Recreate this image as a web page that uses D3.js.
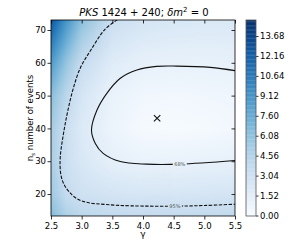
<!DOCTYPE html>
<html>
<head>
<meta charset="utf-8">
<script src="https://cdn.jsdelivr.net/npm/d3@7"></script>
<style>
  body { margin: 0; background: #fff; }
  text { font-family: "DejaVu Sans", sans-serif; }
</style>
</head>
<body>
<script>
// colour field (rows: ns ascending, cols: gamma)
var gammaGrid = [2.5, 2.75, 3.0, 3.5, 4.0, 4.5, 5.0, 5.5];
var nsGrid = [13, 20, 30, 40, 50, 60, 73.1];
var field = [
  [6.5, 4.8, 4.2, 3.8, 3.7, 3.7, 3.8, 3.9],
  [5.5, 3.6, 3.0, 2.6, 2.4, 2.4, 2.5, 2.6],
  [5.0, 3.2, 2.3, 1.3, 1.0, 1.0, 1.1, 1.2],
  [5.2, 3.2, 2.0, 0.8, 0.2, 0.1, 0.2, 0.4],
  [6.3, 4.1, 2.5, 1.0, 0.5, 0.4, 0.5, 0.6],
  [8.6, 5.8, 3.6, 1.8, 1.2, 1.1, 1.1, 1.2],
  [12.5, 9.0, 6.2, 3.3, 2.6, 2.3, 2.2, 2.2]
];

// contour lines [gamma, ns]
var contour68 = [[5.5, 57.6], [5.1, 58.6], [4.55, 59.0], [4.22, 58.9], [3.9, 57.8], [3.63, 55.3],
  [3.41, 50.7], [3.25, 45.6], [3.16, 39.5], [3.22, 35.5], [3.35, 32.4], [3.63, 29.9],
  [4.06, 29.1], [4.6, 29.1], [5.5, 30.2]];
var contour95 = [[3.58, 73.1], [3.38, 70.2], [3.16, 64.2], [2.98, 58.5], [2.86, 52], [2.77, 45],
  [2.7, 38], [2.65, 31], [2.66, 26], [2.71, 23], [2.79, 20.8], [2.92, 18.6], [3.1, 17.4],
  [3.4, 16.8], [3.8, 16.4], [4.5, 16.3], [5.0, 16.5], [5.5, 16.9]];
var bestFit = [4.23, 43.1];
var labels = [{ text: '68%', g: 4.6, n: 29.1 }, { text: '95%', g: 4.52, n: 16.3 }];

var xTicks = [2.5, 3.0, 3.5, 4.0, 4.5, 5.0, 5.5];
var yTicks = [20, 30, 40, 50, 60, 70];
var cbTicks = [0, 1.52, 3.04, 4.56, 6.08, 7.60, 9.12, 10.64, 12.16, 13.68];

var width = 294, height = 252;
var pLeft = 51, pRight = 235, pTop = 20, pBottom = 216;
var cbMax = 14.9;

var x = d3.scaleLinear().domain([2.5, 5.5]).range([pLeft, pRight]);
var y = d3.scaleLinear().domain([13.3, 73.05]).range([pBottom, pTop]);
var color = d3.scaleSequential(d3.interpolateBlues).domain([0, cbMax]);

var svg = d3.select('body').append('svg')
  .attr('width', width)
  .attr('height', height);

// bilinear lookup in the read grid
function lookup(g, n) {
  var i = Math.max(0, Math.min(gammaGrid.length - 2, d3.bisectRight(gammaGrid, g) - 1));
  var j = Math.max(0, Math.min(nsGrid.length - 2, d3.bisectRight(nsGrid, n) - 1));
  var tx = Math.max(0, Math.min(1, (g - gammaGrid[i]) / (gammaGrid[i + 1] - gammaGrid[i])));
  var ty = Math.max(0, Math.min(1, (n - nsGrid[j]) / (nsGrid[j + 1] - nsGrid[j])));
  var a = field[j][i], b = field[j][i + 1], c = field[j + 1][i], d = field[j + 1][i + 1];
  return (a * (1 - tx) + b * tx) * (1 - ty) + (c * (1 - tx) + d * tx) * ty;
}

var nx = 150, ny = 120;
var gx = d3.scaleLinear().domain([0, nx]).range(x.domain());
var gy = d3.scaleLinear().domain([0, ny]).range(y.domain());
var values = new Array(nx * ny);
for (var j = 0; j < ny; j++) {
  for (var i = 0; i < nx; i++) {
    values[j * nx + i] = lookup(gx(i + 0.5), gy(j + 0.5));
  }
}

var step = 0.1;
var contours = d3.contours()
  .size([nx, ny])
  .smooth(true)
  .thresholds(d3.range(0, cbMax, step))(values);

var proj = d3.geoTransform({
  point: function (px, py) {
    this.stream.point(x(gx(px)), y(gy(py)));
  }
});
var path = d3.geoPath(proj);

svg.append('clipPath').attr('id', 'plotclip')
  .append('rect')
  .attr('x', pLeft).attr('y', pTop)
  .attr('width', pRight - pLeft).attr('height', pBottom - pTop);

svg.append('g')
  .attr('clip-path', 'url(#plotclip)')
  .selectAll('path')
  .data(contours)
  .enter()
  .append('path')
  .attr('d', path)
  .attr('fill', function (d) { return color(d.value + step / 2); })
  .attr('stroke', function (d) { return color(d.value + step / 2); })
  .attr('stroke-width', 0.3);

// mask out gaps for the contour labels
var mask = svg.append('mask').attr('id', 'labelmask')
  .attr('maskUnits', 'userSpaceOnUse')
  .attr('x', 0).attr('y', 0).attr('width', width).attr('height', height);
mask.append('rect').attr('width', width).attr('height', height).attr('fill', '#fff');
mask.selectAll('rect.gap')
  .data(labels)
  .enter()
  .append('rect')
  .attr('class', 'gap')
  .attr('x', function (d) { return x(d.g) - 7; })
  .attr('y', function (d) { return y(d.n) - 3; })
  .attr('width', 14)
  .attr('height', 6)
  .attr('fill', '#000');

var line = d3.line()
  .x(function (d) { return x(d[0]); })
  .y(function (d) { return y(d[1]); })
  .curve(d3.curveCatmullRom);

var lines = svg.append('g')
  .attr('clip-path', 'url(#plotclip)')
  .append('g')
  .attr('mask', 'url(#labelmask)');

lines.append('path')
  .attr('d', line(contour68))
  .attr('fill', 'none')
  .attr('stroke', '#111')
  .attr('stroke-width', 1.1);

lines.append('path')
  .attr('d', line(contour95))
  .attr('fill', 'none')
  .attr('stroke', '#111')
  .attr('stroke-width', 1.1)
  .attr('stroke-dasharray', '3.4,1.5');

svg.selectAll('text.clabel')
  .data(labels)
  .enter()
  .append('text')
  .attr('class', 'clabel')
  .attr('x', function (d) { return x(d.g); })
  .attr('y', function (d) { return y(d.n) + 1.8; })
  .attr('text-anchor', 'middle')
  .attr('font-size', 5)
  .attr('fill', '#555')
  .text(function (d) { return d.text; });

// best fit marker
var m = 3.2;
svg.append('path')
  .attr('d', 'M' + (x(bestFit[0]) - m) + ',' + (y(bestFit[1]) - m) +
    'L' + (x(bestFit[0]) + m) + ',' + (y(bestFit[1]) + m) +
    'M' + (x(bestFit[0]) - m) + ',' + (y(bestFit[1]) + m) +
    'L' + (x(bestFit[0]) + m) + ',' + (y(bestFit[1]) - m))
  .attr('stroke', '#111')
  .attr('stroke-width', 1.1);

// axes
function styleAxis(g) {
  g.select('.domain').remove();
  g.selectAll('.tick line').attr('stroke', '#000').attr('stroke-width', 0.8);
  g.selectAll('.tick text').attr('font-size', 8.5).attr('fill', '#000')
    .attr('font-family', '"DejaVu Sans", sans-serif');
}

svg.append('g')
  .attr('transform', 'translate(0,' + pBottom + ')')
  .call(d3.axisBottom(x).tickValues(xTicks).tickFormat(d3.format('.1f')).tickSize(3.5).tickPadding(3))
  .call(styleAxis);
svg.append('g')
  .attr('transform', 'translate(0,' + pTop + ')')
  .call(d3.axisTop(x).tickValues(xTicks).tickFormat('').tickSize(-3.5))
  .call(styleAxis);
svg.append('g')
  .attr('transform', 'translate(' + pLeft + ',0)')
  .call(d3.axisLeft(y).tickValues(yTicks).tickSize(3.5).tickPadding(1.5))
  .call(styleAxis);
svg.append('g')
  .attr('transform', 'translate(' + pRight + ',0)')
  .call(d3.axisRight(y).tickValues(yTicks).tickFormat('').tickSize(-3.5))
  .call(styleAxis);

svg.append('rect')
  .attr('x', pLeft).attr('y', pTop)
  .attr('width', pRight - pLeft).attr('height', pBottom - pTop)
  .attr('fill', 'none')
  .attr('stroke', '#000')
  .attr('stroke-width', 0.8);

// colour bar
var cbLeft = 246, cbRight = 256;
var cb = d3.scaleLinear().domain([0, cbMax]).range([pBottom - 0.5, pTop]);
svg.append('g')
  .selectAll('rect')
  .data(d3.range(0, cbMax, step))
  .enter()
  .append('rect')
  .attr('x', cbLeft)
  .attr('width', cbRight - cbLeft)
  .attr('y', function (d) { return cb(Math.min(cbMax, d + step)); })
  .attr('height', function (d) { return cb(d) - cb(Math.min(cbMax, d + step)) + 0.3; })
  .attr('fill', function (d) { return color(d + step / 2); });

svg.append('g')
  .attr('transform', 'translate(' + cbRight + ',0)')
  .call(d3.axisRight(cb).tickValues(cbTicks).tickFormat(d3.format('.2f')).tickSize(2.5).tickPadding(1.5))
  .call(styleAxis);

svg.append('rect')
  .attr('x', cbLeft).attr('y', pTop)
  .attr('width', cbRight - cbLeft).attr('height', pBottom - pTop)
  .attr('fill', 'none')
  .attr('stroke', '#555')
  .attr('stroke-width', 0.8);

// labels
svg.append('text')
  .attr('x', (pLeft + pRight) / 2)
  .attr('y', 237)
  .attr('text-anchor', 'middle')
  .attr('font-size', 9)
  .text('γ');

var yl = svg.append('text')
  .attr('transform', 'translate(33,' + ((pTop + pBottom) / 2) + ') rotate(-90)')
  .attr('text-anchor', 'middle')
  .attr('font-size', 8.5);
yl.append('tspan').text('n');
yl.append('tspan').attr('font-size', 5.5).attr('dy', 1.5).text('s');
yl.append('tspan').attr('dy', -1.5).text(' number of events');

var title = svg.append('text')
  .attr('x', 144)
  .attr('y', 16)
  .attr('text-anchor', 'middle')
  .attr('font-size', 10);
title.append('tspan').attr('font-style', 'italic').text('PKS');
title.append('tspan').text(' 1424 + 240;  ');
title.append('tspan').attr('font-style', 'italic').text('δm');
title.append('tspan').attr('font-size', 7).attr('dy', -4).text('2');
title.append('tspan').attr('dy', 4).text(' = 0');
</script>
</body>
</html>
